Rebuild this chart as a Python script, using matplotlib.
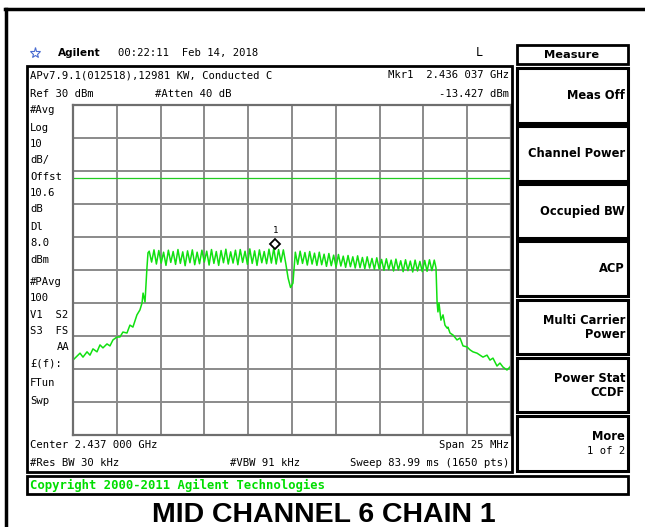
import numpy as np
import matplotlib
matplotlib.use('Agg')
import matplotlib.pyplot as plt
from matplotlib.patches import Rectangle
from matplotlib.lines import Line2D

W, H = 645, 527

# span is 25 MHz around 2.437 GHz, ref 30 dBm, 10 dB/div
span_mhz = 25.0
ref_dbm = 30.0
db_per_div = 10.0
display_line = 8.0
mkr_f = -0.963
mkr_db = -13.427

# skirts (MHz offset, dBm)
left_f = [-12.50, -12.33, -12.10, -11.93, -11.70, -11.53, -11.36, -11.13, -10.96, -10.79,
          -10.56, -10.39, -10.22, -9.99, -9.82, -9.65, -9.42, -9.25, -9.08, -8.85,
          -8.68, -8.56, -8.50, -8.39, -8.28, -8.22]
left_db = [-47.3, -46.4, -45.2, -46.4, -44.8, -45.8, -43.9, -44.8, -42.7, -43.6,
           -42.4, -43.0, -41.2, -40.3, -40.3, -38.8, -39.1, -36.7, -37.3, -33.6,
           -32.1, -30.0, -27.0, -29.7, -19.4, -14.8]

# occupied band ripple, peak/trough pairs across -8.15..8.12 MHz
plateau_f0, plateau_f1 = -8.15, 8.12
plateau_db = [-14.3, -17.6, -13.9, -18.2, -14.1, -17.9, -14.6, -18.6, -14.0, -17.7,
              -14.4, -18.3, -13.8, -18.0, -14.5, -18.7, -14.2, -17.8, -13.9, -18.4,
              -14.6, -18.1, -14.0, -17.6, -14.3, -18.5, -13.8, -18.0, -14.4, -18.6,
              -14.1, -17.8, -13.7, -18.2, -14.5, -17.9, -14.0, -18.4, -13.8, -17.7,
              -14.3, -18.3, -13.6, -18.0, -14.2, -18.6, -13.9, -17.8, -14.4, -18.1,
              -13.7, -17.9, -13.4, -18.2, -13.8, -17.6, -13.9, -18.0, -22.5, -25.3,
              -24.0, -14.6, -18.3, -14.3, -18.0, -14.7, -18.5, -14.4, -18.2, -14.9,
              -18.6, -14.6, -18.4, -15.2, -18.9, -15.0, -18.7, -15.5, -19.1, -15.3,
              -18.8, -15.8, -19.2, -15.6, -19.0, -16.0, -19.4, -15.7, -19.3, -16.2,
              -19.6, -16.0, -19.4, -16.5, -19.8, -16.3, -19.7, -16.8, -20.1, -16.6,
              -19.9, -17.0, -20.3, -16.7, -20.0, -17.2, -20.5, -16.9, -20.2, -17.3,
              -20.6, -17.0, -20.3, -17.4, -20.5, -17.1, -20.4, -16.9, -20.2, -17.0]

right_f = [8.22, 8.28, 8.33, 8.39, 8.50, 8.62, 8.73, 8.85, 8.90, 9.02,
           9.19, 9.42, 9.59, 9.76, 9.99, 10.16, 10.33, 10.56, 10.73, 10.90,
           11.13, 11.30, 11.47, 11.70, 11.87, 12.04, 12.27, 12.44, 12.50]
right_db = [-19.4, -29.7, -32.7, -30.0, -35.2, -33.6, -36.7, -37.6, -37.3, -39.1,
            -39.7, -41.2, -40.6, -43.0, -43.3, -44.2, -44.8, -45.2, -45.8, -46.4,
            -45.8, -47.3, -46.7, -49.1, -48.2, -49.4, -50.3, -49.4, -48.8]

left_labels = [("#Avg", 110), ("Log", 128), ("10", 144), ("dB/", 160), ("Offst", 177),
               ("10.6", 193), ("dB", 209), ("Dl", 227), ("8.0", 243), ("dBm", 260),
               ("#PAvg", 282), ("100", 298), ("V1  S2", 315), ("S3  FS", 331),
               ("£(f):", 363), ("FTun", 383), ("Swp", 401)]

softkeys = [(["Meas Off"], 68, 123), (["Channel Power"], 126, 181),
            (["Occupied BW"], 184, 238), (["ACP"], 241, 296),
            (["Multi Carrier", "Power"], 300, 354), (["Power Stat", "CCDF"], 358, 412),
            (["More", "1 of 2"], 416, 471)]

fig = plt.figure(figsize=(W / 100, H / 100), dpi=100)
fig.patch.set_facecolor('white')
mono = 'DejaVu Sans Mono'


def fx(x):
    return x / W


def fy(y):
    return 1 - y / H


def box(x0, y0, x1, y1, lw=2.0, ec='black'):
    fig.add_artist(Rectangle((fx(x0), fy(y1)), fx(x1) - fx(x0), fy(y0) - fy(y1),
                             transform=fig.transFigure, fill=False, ec=ec, lw=lw))


def txt(x, y, s, **kw):
    kw.setdefault('family', mono)
    kw.setdefault('fontsize', 7.6)
    kw.setdefault('va', 'center')
    fig.text(fx(x), fy(y), s, **kw)


# outer frame
fig.add_artist(Line2D([fx(5), 1], [fy(9), fy(9)], transform=fig.transFigure, color='black', lw=2.5))
fig.add_artist(Line2D([fx(6), fx(6)], [fy(9), 0], transform=fig.transFigure, color='black', lw=2.5))

# header
fig.add_artist(Line2D([fx(35)], [fy(53)], transform=fig.transFigure, marker='*', ms=8,
                      color='#4a6cd0', mfc='white', mew=0.8))
txt(58, 53, "Agilent", family='DejaVu Sans', weight='bold', fontsize=7.6)
txt(118, 53, "00:22:11  Feb 14, 2018")
txt(479, 53, "L", ha='center', fontsize=8.5)
box(517, 45, 628, 64, lw=2.0)
txt(572, 54.5, "Measure", ha='center', family='DejaVu Sans', weight='bold', fontsize=8.2)

# instrument screen
box(27, 66, 512, 472, lw=2.0)
txt(30, 75, "APv7.9.1(012518),12981 KW, Conducted C")
txt(509, 75, "Mkr1  2.436 037 GHz", ha='right')
txt(30, 94, "Ref 30 dBm")
txt(155, 94, "#Atten 40 dB")
txt(509, 94, "%.3f dBm" % mkr_db, ha='right')
for s, y in left_labels:
    txt(30, y, s)
txt(70, 347, "AA", ha='right')

txt(30, 445, "Center 2.437 000 GHz")
txt(509, 445, "Span 25 MHz", ha='right')
txt(30, 463, "#Res BW 30 kHz")
txt(230, 463, "#VBW 91 kHz")
txt(509, 463, "Sweep 83.99 ms (1650 pts)", ha='right')

ax = fig.add_axes([fx(73), fy(435), fx(511) - fx(73), fy(105) - fy(435)])
ax.set_xlim(-span_mhz / 2, span_mhz / 2)
ax.set_ylim(ref_dbm - 10 * db_per_div, ref_dbm)
ax.set_xticks(np.arange(-12.5, 12.6, 2.5))
ax.set_yticks(np.arange(ref_dbm - 100, ref_dbm + 1, db_per_div))
ax.tick_params(length=0, labelbottom=False, labelleft=False)
ax.grid(True, color='#8a8a8a', lw=1.4)
for sp in ax.spines.values():
    sp.set_color('#6e6e6e')
    sp.set_linewidth(1.6)

plat_f = np.linspace(plateau_f0, plateau_f1, len(plateau_db))
trace_f = np.concatenate([left_f, plat_f, right_f])
trace_db = np.concatenate([left_db, plateau_db, right_db])
ax.axhline(display_line, color='#22cc22', lw=0.9)
ax.plot(trace_f, trace_db, color='#11e011', lw=1.1)
ax.plot([mkr_f], [mkr_db + 1.2], marker='D', ms=5, mfc='white', mec='black', mew=1.3,
        clip_on=False)
ax.annotate("1", (mkr_f, mkr_db + 1.2), xytext=(0, 7), textcoords='offset points',
            ha='center', va='bottom', fontsize=6.5, family=mono)

# softkeys
for lines, y0, y1 in softkeys:
    box(517, y0, 628, y1, lw=2.2)
    yc = (y0 + y1) / 2
    if len(lines) == 1:
        txt(625, yc, lines[0], ha='right', family='DejaVu Sans', weight='bold', fontsize=8.3)
    elif lines[0] == "More":
        txt(625, yc - 7, lines[0], ha='right', family='DejaVu Sans', weight='bold', fontsize=8.3)
        txt(625, yc + 7, lines[1], ha='right', fontsize=7.6)
    else:
        txt(625, yc - 7, lines[0], ha='right', family='DejaVu Sans', weight='bold', fontsize=8.3)
        txt(625, yc + 7, lines[1], ha='right', family='DejaVu Sans', weight='bold', fontsize=8.3)

# copyright bar and caption
box(27, 476, 628, 494, lw=2.0)
txt(30, 485, "Copyright 2000-2011 Agilent Technologies", color='#00dd00', weight='bold',
    fontsize=8.8)
fig.text(fx(324), fy(522), "MID CHANNEL 6 CHAIN 1", ha='center', va='baseline',
         family='Liberation Sans', weight='bold', fontsize=20.5)

fig.savefig('out.png', dpi=100)
